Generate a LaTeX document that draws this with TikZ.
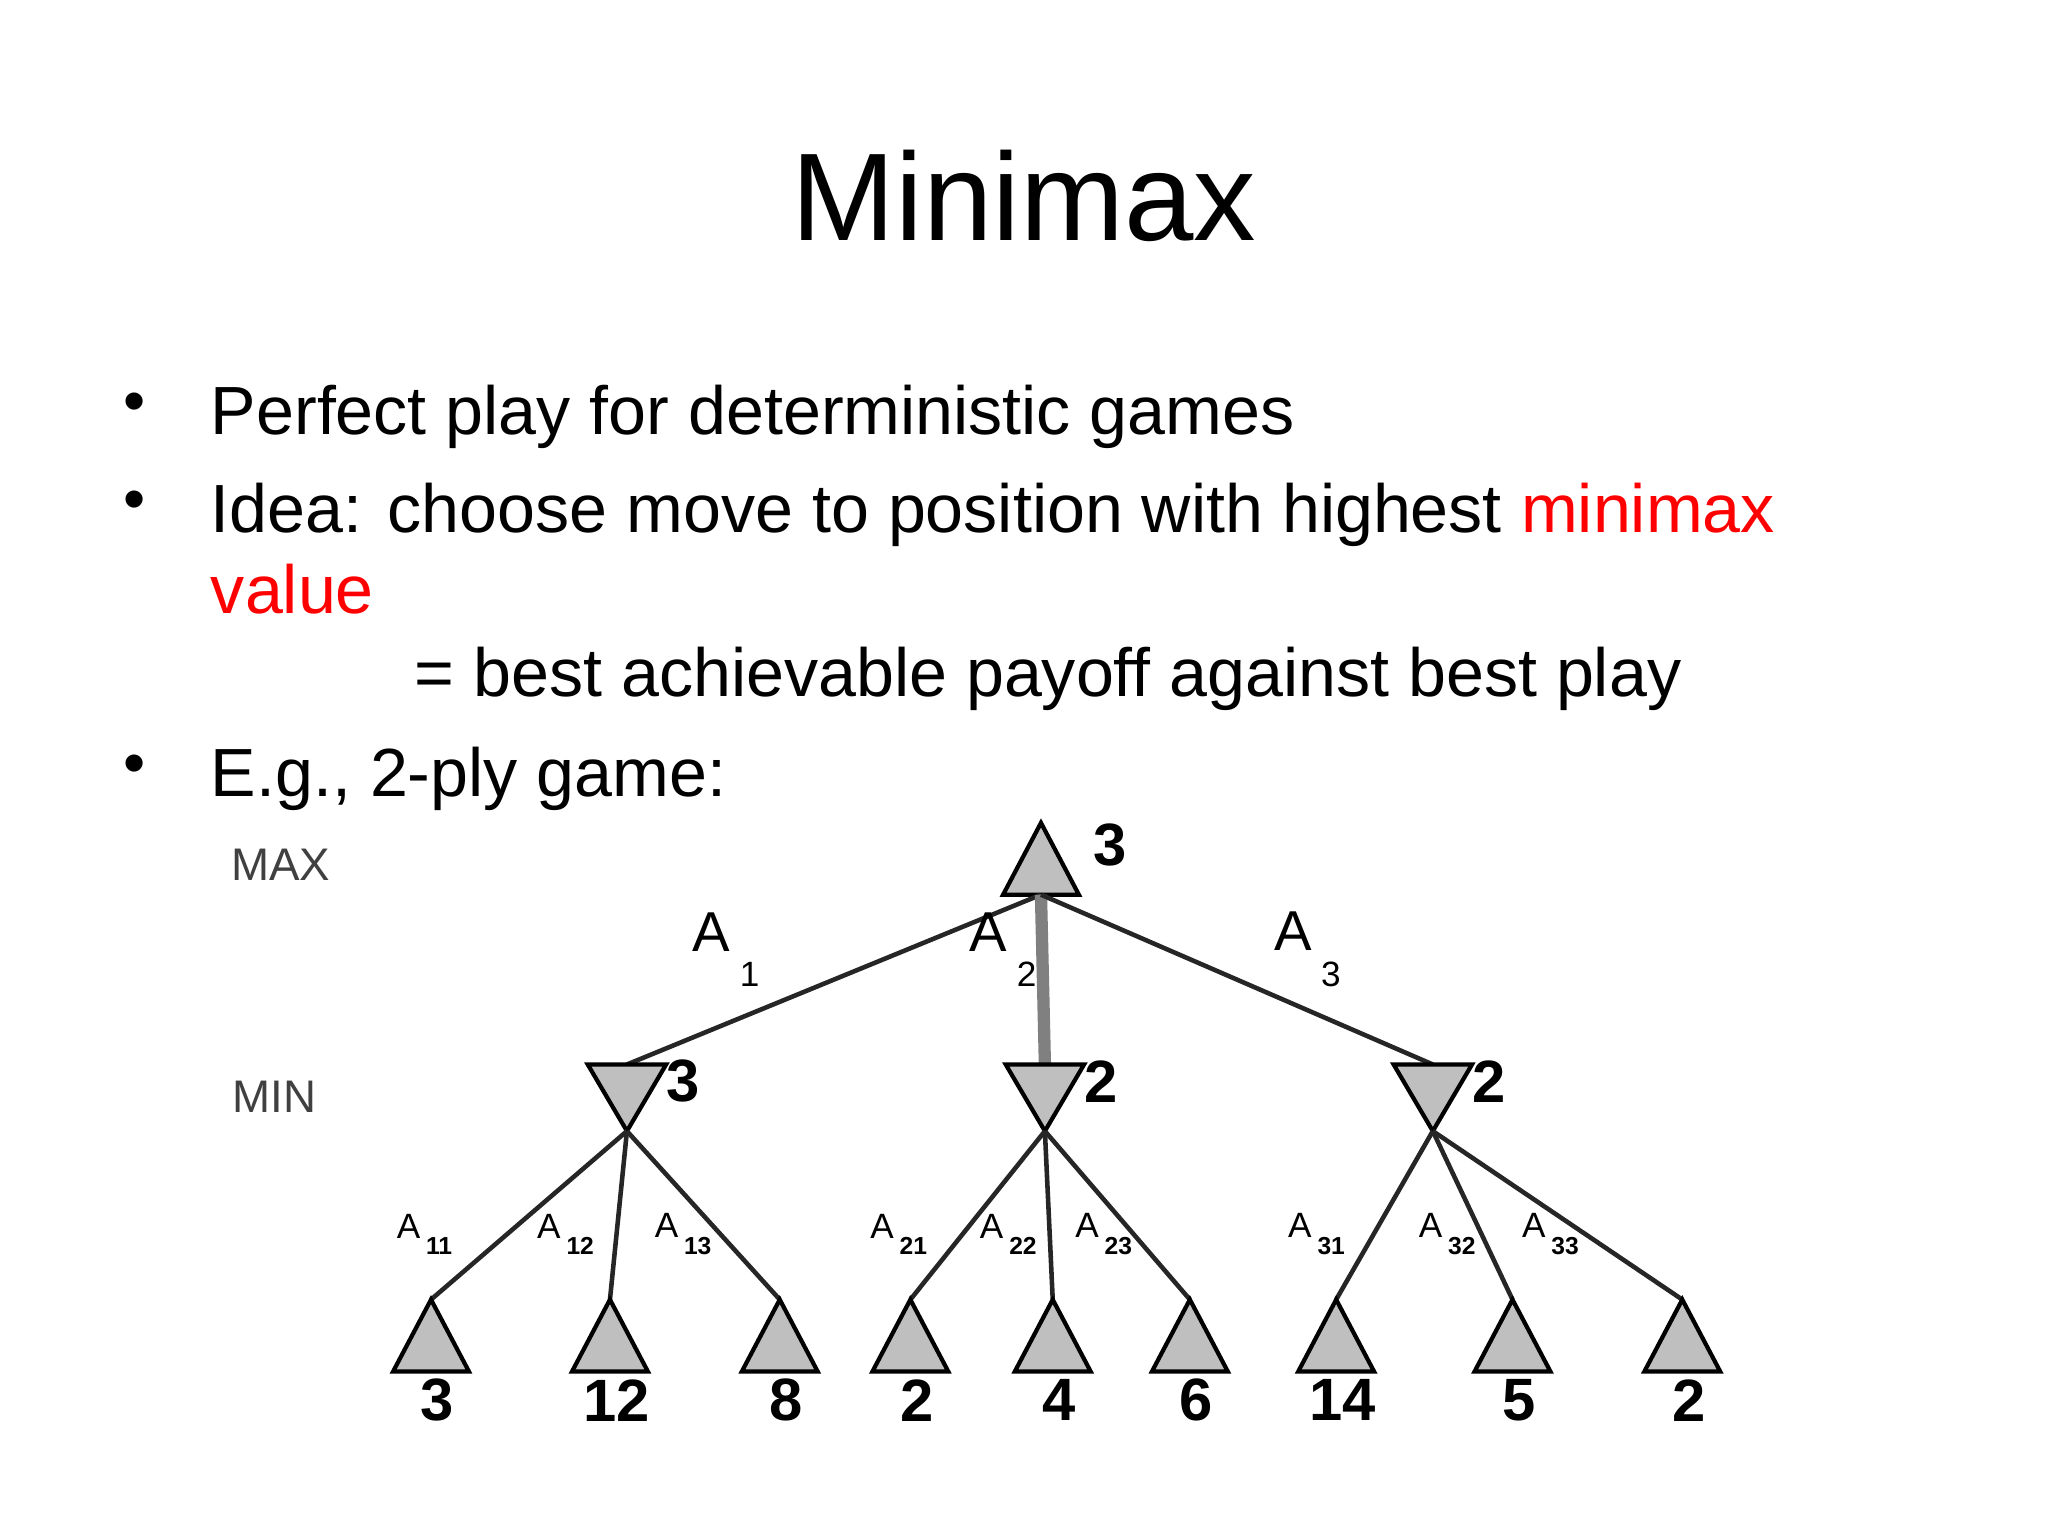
\documentclass[tikz,border=0pt]{standalone}
\usepackage{fontspec}
\setmainfont{Liberation Sans}
\usetikzlibrary{calc}
\begin{document}
\begin{tikzpicture}[x=0.01306cm,y=-0.01306cm,
  tri/.style={draw=black,fill=black!25,line width=1.2pt},
  edge/.style={draw=black!85,line width=1.3pt},
  val/.style={font=\bfseries\fontsize{17}{19}\selectfont},
  al/.style={font=\fontsize{16}{18}\selectfont},
  sl/.style={font=\fontsize{10}{12}\selectfont},
  bul/.style={anchor=base west,font=\fontsize{19.4}{22}\selectfont}]
\useasboundingbox (0,0) rectangle (1568,1176);
\node (title) at (784,150) {\fontsize{35.5}{38}\selectfont Minimax};
\foreach \y/\n in {318/b1,393/b2,595/b3} \node (\n) at (103,\y-6) {\fontsize{18}{20}\selectfont\textbullet};
\node[bul] (t1) at (152,333) {Perfect play for deterministic games};
\node[bul] (t2) at (152,408) {Idea: choose move to position with highest \textcolor{red}{minimax}};
\node[bul] (t3) at (152,470) {\textcolor{red}{value}};
\node[bul] (t4) at (308,533) {= best achievable payoff against best play};
\node[bul] (t5) at (152,610) {E.g., 2-ply game:};
\node[text=black!75,font=\fontsize{13}{14}\selectfont] (max) at (215,662) {MAX};
\node[text=black!75,font=\fontsize{13}{14}\selectfont] (min) at (210,840) {MIN};
% root
\coordinate (r) at (797,685);
\draw[tri] (797,630) -- (826,685) -- (768,685) -- cycle;
\node[val] (rv) at (850,647) {3};
% min nodes
\foreach \x/\n/\v in {480/m1/3,800/m2/2,1097/m3/2}{
  \coordinate (\n t) at (\x,815);
  \coordinate (\n) at (\x,866);
  \node[val] (\n v) at (\x+43,828) {\v};
}
\draw[edge] (r) -- (m1t);
\draw[draw=black!50,line width=3.5pt] (r) -- (m2t);
\draw[edge] (r) -- (m3t);
\foreach \n in {m1,m2,m3}{
  \draw[tri] ($(\n t)+(-30,0)$) -- ($(\n t)+(30,0)$) -- (\n) -- cycle;
}
% leaves
\foreach \x/\n/\v/\p in {330/l1/3/m1,467/l2/12/m1,597/l3/8/m1,697/l4/2/m2,806/l5/4/m2,911/l6/6/m2,1023/l7/14/m3,1158/l8/5/m3,1288/l9/2/m3}{
  \coordinate (\n) at (\x,995);
  \draw[edge] (\p) -- (\n);
  \draw[tri] (\n) -- (\x+29,1050) -- (\x-29,1050) -- cycle;
  \node[val] (\n v) at (\x+5,1072) {\v};
}
\node[al] (a1) at (556,727) {A\,\raisebox{-1.2ex}{\fontsize{10}{12}\selectfont 1}};
\node[al] (a2) at (768,727) {A\,\raisebox{-1.2ex}{\fontsize{10}{12}\selectfont 2}};
\node[al] (a3) at (1001,727) {A\,\raisebox{-1.2ex}{\fontsize{10}{12}\selectfont 3}};
\foreach \x/\s in {315/11,423/12,513/13,678/21,762/22,835/23,998/31,1098/32,1177/33}
  \node[sl] (s\s) at (\x+10,945) {A\,\raisebox{-0.9ex}{\fontsize{7}{8}\selectfont\bfseries \s}};
\end{tikzpicture}
\end{document}
